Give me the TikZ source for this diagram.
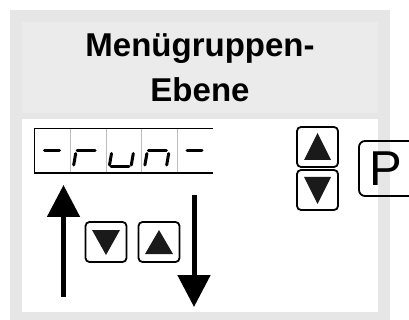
\documentclass[tikz,border=0pt]{standalone}
\usepackage{fontspec}
\setmainfont{Liberation Sans}
\usetikzlibrary{arrows.meta}
\definecolor{outergray}{HTML}{E6E6E6}
\definecolor{titlegray}{HTML}{EBEBEB}
\definecolor{sepgray}{HTML}{BDBDBD}
\definecolor{trigray}{HTML}{1A1A1A}
\tikzset{
  seg/.style={line width=3pt, line cap=round, black},
  keybox/.style={draw, line width=1.8pt, rounded corners=4pt, minimum width=41pt, minimum height=40pt, inner sep=0pt},
  pkeybox/.style={draw, line width=1.8pt, rounded corners=6pt, minimum width=66pt, minimum height=55pt, inner sep=0pt},
  trifill/.style={fill=trigray},
  bigarrow/.style={line width=5pt, -{Triangle[width=32pt,length=32pt]}},
  dispframe/.style={line width=1.3pt, black},
  sepline/.style={line width=1pt, sepgray}
}
\newcommand\mydash{\draw[seg] (-8,151) -- (7,151);}
\newcommand\mymid{\draw[seg] (-11,151) -- (7,151);}
\newcommand\myleft{\draw[seg] (-12.5,153.5) -- (-14.5,165);}
\newcommand\myright{\draw[seg] (9.3,153.5) -- (7.3,165);}
\newcommand\mybottom{\draw[seg] (-13,167) -- (5,167);}
\begin{document}
\begin{tikzpicture}[x=1pt,y=-1pt]
\clip (0,0) rectangle (409,320);
\fill[white] (0,0) rectangle (409,320);
\fill[outergray] (10,10) rectangle (390,320);
\fill[titlegray] (22,22) rectangle (378,113);
\fill[white] (22,119) rectangle (378,312);
% title
\node[font=\bfseries\fontsize{33}{45}\selectfont, align=center, inner sep=0pt] (title) at (200,68) {Menügruppen-\\Ebene};
% display
\draw[sepline] (70.5,128.5) -- (70.5,173);
\draw[sepline] (106,128.5) -- (106,173);
\draw[sepline] (141.5,128.5) -- (141.5,173);
\draw[sepline] (177,128.5) -- (177,173);
\draw[dispframe] (213,128.5) -- (34.5,128.5) -- (34.5,173) -- (213,173);
\begin{scope}[xshift=52.5pt]\mydash\end{scope}
\begin{scope}[xshift=88.2pt]\mymid\myleft\end{scope}
\begin{scope}[xshift=124pt]\myleft\myright\mybottom\end{scope}
\begin{scope}[xshift=159.4pt]\mymid\myleft\myright\end{scope}
\begin{scope}[xshift=195pt]\mydash\end{scope}
% right keys
\node[keybox] (kup) at (317.5,147) {};
\fill[trifill] (kup.center) ++(-13.5,13) -- ++(27,0) -- ++(-13.5,-27) -- cycle;
\node[keybox] (kdown) at (317.5,190) {};
\fill[trifill] (kdown.center) ++(-13.5,-13) -- ++(27,0) -- ++(-13.5,27) -- cycle;
\node[pkeybox] (pkey) at (392,168.5) {};
\node[font=\fontsize{49}{49}\selectfont, inner sep=0pt] (ptext) at (386,168.5) {P};
% bottom keys
\node[keybox] (bdown) at (106,242) {};
\fill[trifill] (bdown.center) ++(-14,-12) -- ++(28,0) -- ++(-14,25) -- cycle;
\node[keybox] (bup) at (159,242) {};
\fill[trifill] (bup.center) ++(-14,12) -- ++(28,0) -- ++(-14,-24) -- cycle;
% arrows
\coordinate (ua1) at (63.5,297);
\coordinate (ua2) at (63.5,185);
\draw[bigarrow] (ua1) -- (ua2);
\coordinate (da1) at (194,195);
\coordinate (da2) at (194,307);
\draw[bigarrow] (da1) -- (da2);
\end{tikzpicture}
\end{document}
